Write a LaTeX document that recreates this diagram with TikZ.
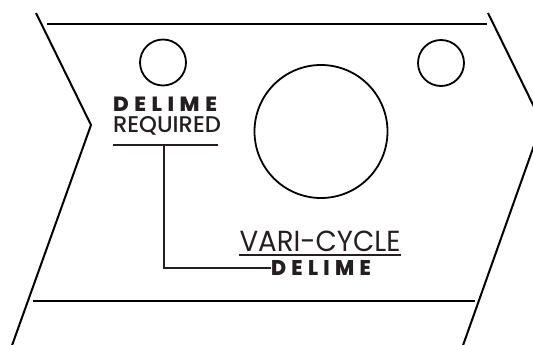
\documentclass[tikz,border=0pt]{standalone}
\usepackage{fontspec}
\setmainfont{Poppins}
\newfontfamily\heavyfont{Poppins ExtraBold}
\newfontfamily\medfont{Poppins Medium}
\usepackage{graphicx}
\definecolor{ink}{HTML}{231F20}
\tikzset{
  outline/.style={line width=2pt, black},
  hole/.style={line width=1.8pt, black},
  leader/.style={line width=1.6pt, ink},
  label/.style={anchor=base west, inner sep=0pt, outer sep=0pt, text=ink},
}
\newcommand{\spc}{\kern.26em}
\newcommand{\delimeword}{\heavyfont D\spc E\spc L\spc I\spc M\spc E}
\begin{document}
\begin{tikzpicture}[x=1pt,y=-1pt]
\useasboundingbox (0,0) rectangle (533,345);
\clip (0,0) rectangle (533,345);
% outline of the plate
\coordinate (tl) at (47,24);
\coordinate (tr) at (487,24);
\coordinate (bl) at (33,301);
\coordinate (br) at (475,301);
\coordinate (l1) at (36,13);
\coordinate (lv) at (91,125);
\coordinate (l2) at (10,351);
\coordinate (r1) at (488,13);
\coordinate (rv) at (542,123);
\coordinate (r2) at (461,351);
\draw[outline] (tl) -- (tr);
\draw[outline] (bl) -- (br);
\draw[outline] (l1) -- (lv) -- (l2);
\draw[outline] (r1) -- (rv) -- (r2);
% holes
\node[hole, draw, circle, minimum size=46pt, inner sep=0pt] (hL) at (163,62.5) {};
\node[hole, draw, circle, minimum size=46pt, inner sep=0pt] (hR) at (441,63) {};
\node[hole, draw, circle, minimum size=133pt, inner sep=0pt] (hB) at (321,131.5) {};
% labels
\node[label] (d1) at (113,111) {\resizebox{104pt}{14.5pt}{\delimeword}};
\node[label] (req) at (113,132.5) {\resizebox{108pt}{16pt}{\medfont REQUIRED}};
\coordinate (u1a) at (113,145);
\coordinate (u1b) at (218,145);
\draw[leader] (u1a) -- (u1b);
\coordinate (v0) at (164,145);
\coordinate (v1) at (164,268);
\coordinate (v2) at (271,268);
\draw[leader] (v0) -- (v1) -- (v2);
\node[label] (vc) at (239.5,251.5) {\resizebox{161pt}{20.5pt}{VARI-CYCLE}};
\coordinate (u2a) at (239,255);
\coordinate (u2b) at (401,255);
\draw[leader] (u2a) -- (u2b);
\node[label] (d2) at (271,275) {\resizebox{100pt}{15pt}{\delimeword}};
\end{tikzpicture}
\end{document}
